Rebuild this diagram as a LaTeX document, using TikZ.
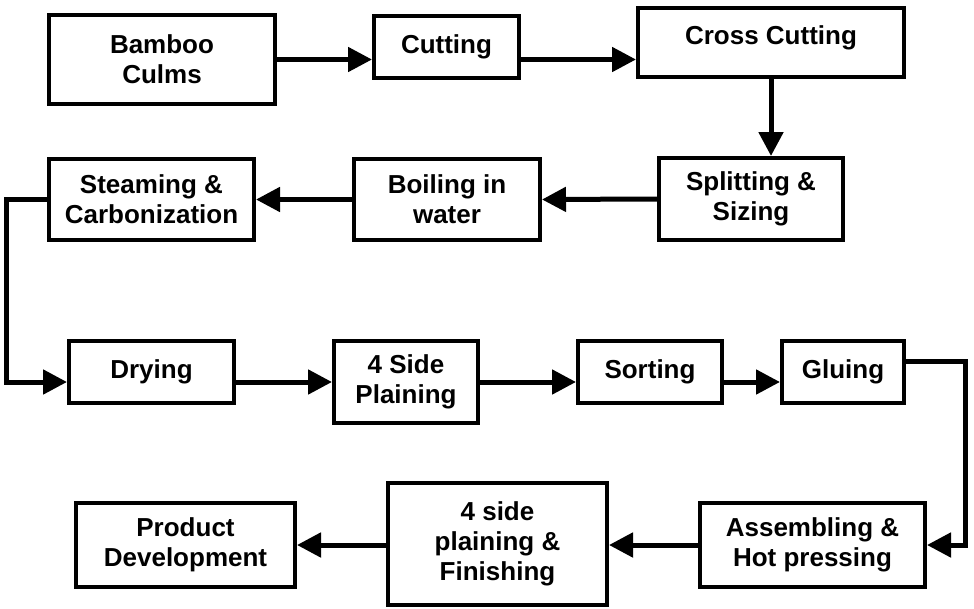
\documentclass[tikz,border=0pt]{standalone}
\usepackage{fontspec}
\setmainfont{Liberation Sans}
\usetikzlibrary{arrows.meta,positioning}

\begin{document}
\begin{tikzpicture}[x=1pt,y=-1pt,
  box/.style={draw, line width=4pt, align=center, inner sep=0pt,
    font=\bfseries\fontsize{26}{30}\selectfont},
  arr/.style={line width=5pt, -{Triangle[length=24pt,width=24pt]}}]
  \useasboundingbox (0,0) rectangle (974,608);
  \node[box, minimum width=226pt, minimum height=89pt] (bam) at (162,59.5) {Bamboo\\Culms};
  \node[box, minimum width=145pt, minimum height=62pt] (cut) at (446.5,47) {Cutting};
  \node[box, minimum width=266pt, minimum height=69pt, text depth=15pt] (cross) at (771,42.5) {Cross Cutting};
  \node[box, minimum width=184pt, minimum height=82pt] (split) at (751,199) {Splitting \&\\Sizing};
  \node[box, minimum width=186pt, minimum height=81pt] (boil) at (447,199.5) {Boiling in\\water};
  \node[box, minimum width=205pt, minimum height=81pt] (steam) at (151.5,199.5) {Steaming \&\\Carbonization};
  \node[box, minimum width=165pt, minimum height=62pt] (dry) at (151.5,372) {Drying};
  \node[box, minimum width=144pt, minimum height=82pt] (plain) at (406,382) {4 Side\\Plaining};
  \node[box, minimum width=144pt, minimum height=62pt] (sort) at (650,372) {Sorting};
  \node[box, minimum width=122pt, minimum height=62pt] (glue) at (843,372) {Gluing};
  \node[box, minimum width=225pt, minimum height=84pt] (assem) at (812.5,545) {Assembling \&\\Hot pressing};
  \node[box, minimum width=219pt, minimum height=122pt] (fin) at (497.5,544) {4 side\\plaining \&\\Finishing};
  \node[box, minimum width=219pt, minimum height=84pt] (prod) at (185.5,545) {Product\\Development};

  \draw[arr] (bam.east) -- (cut.west |- bam.east);
  \draw[arr] (cut.east |- bam.east) -- (cross.west |- bam.east);
  \draw[arr] (cross.south) -- (cross.south |- split.north);
  \draw[arr] (split.west) -- (boil.east);
  \draw[arr] (boil.west) -- (steam.east);
  \draw[arr] (steam.west) -- ++(-41,0) |- (dry.west |- plain.west);
  \draw[arr] (dry.east |- plain.west) -- (plain.west);
  \draw[arr] (plain.east) -- (sort.west |- plain.east);
  \draw[arr] (sort.east |- plain.east) -- (glue.west |- plain.east);
  \draw[arr] ([yshift=11pt]glue.east) -- ++(59,0) |- (assem.east);
  \draw[arr] (assem.west) -- (fin.east |- assem.west);
  \draw[arr] (fin.west |- prod.east) -- (prod.east);
\end{tikzpicture}
\end{document}
